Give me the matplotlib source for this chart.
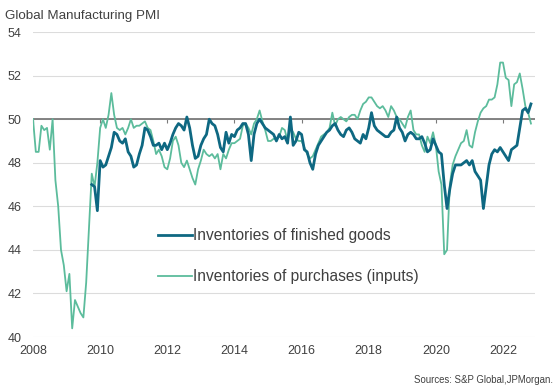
import numpy as np
import matplotlib
matplotlib.use("Agg")
import matplotlib.pyplot as plt

plt.rcParams['font.family'] = ['Liberation Sans', 'DejaVu Sans']

# monthly readings, purchases from Jan 2008, finished goods from Oct 2009
purchases = [
    50.0, 48.5, 48.5, 49.7, 49.5, 49.6, 48.6, 50.0, 47.2, 46.0, 44.0, 43.3,
    42.1, 42.9, 40.4, 41.7, 41.4, 41.1, 40.9, 42.5, 45.0, 47.5, 46.9, 48.0,
    49.6, 50.0, 49.6, 50.2, 51.2, 50.2, 49.6, 49.5, 49.6, 49.3, 49.6, 50.0,
    49.6, 49.7, 49.7, 49.8, 49.9, 49.6, 49.5, 49.0, 48.4, 48.6, 48.3, 47.8,
    47.7, 48.2, 49.0, 49.2, 48.8, 48.0, 47.8, 48.1, 47.7, 47.3, 47.0, 47.7,
    48.1, 48.6, 48.4, 48.3, 48.4, 48.2, 48.4, 47.7, 48.4, 48.2, 48.6, 48.9,
    48.9, 49.0, 49.1, 49.7, 49.8, 49.6, 49.3, 49.8, 50.0, 50.4, 49.9, 49.5,
    49.0, 49.0, 49.1, 49.1, 49.2, 49.6, 49.5, 49.0, 49.6, 49.4, 49.1, 49.0,
    49.0, 48.7, 48.4, 48.2, 48.3, 48.6, 48.9, 49.2, 49.3, 49.4, 49.6, 50.3,
    49.7, 50.0, 50.1, 50.0, 49.9, 50.1, 50.2, 50.2, 50.0, 50.4, 50.7, 50.8,
    51.0, 51.0, 50.8, 50.6, 50.5, 50.6, 50.4, 50.1, 50.6, 50.4, 50.1, 50.0,
    49.8, 49.6, 50.1, 50.4, 49.5, 49.3, 49.3, 48.8, 48.5, 49.2, 48.9, 49.4,
    48.8, 47.6, 47.0, 43.8, 44.0, 47.0, 47.9, 48.3, 48.6, 48.9, 49.0, 49.5,
    48.8, 48.7, 49.4, 49.9, 50.3, 50.5, 50.6, 50.9, 50.9, 51.0, 51.6, 52.6,
    52.6, 51.9, 51.8, 50.6, 51.6, 51.7, 52.1, 51.4, 50.6, 50.3, 49.8,
]
finished = [
    47.0, 46.9, 45.8,
    48.1, 47.8, 47.9, 48.3, 48.7, 49.4, 49.3, 49.0, 48.9, 49.1, 48.5, 48.3,
    47.8, 47.9, 48.4, 48.8, 49.6, 49.5, 49.2, 48.8, 48.8, 48.9, 48.6, 48.9,
    48.6, 48.9, 49.3, 49.6, 49.8, 49.7, 49.5, 50.1, 49.6, 48.8, 48.2, 48.3,
    48.8, 49.1, 49.3, 50.0, 49.8, 49.7, 49.3, 48.7, 48.5, 49.4, 48.9, 49.3,
    49.2, 49.5, 49.6, 49.8, 49.8, 49.3, 48.1, 49.3, 49.8, 50.0, 49.8, 49.6,
    49.5, 49.4, 49.3, 49.0, 49.3, 49.1, 49.2, 48.9, 50.1, 48.8, 49.0, 49.4,
    49.3, 48.6, 48.5, 48.0, 47.7, 48.4, 48.8, 49.0, 49.2, 49.4, 49.5, 49.7,
    49.8, 49.5, 49.3, 49.2, 49.5, 49.6, 49.4, 49.1, 49.0, 48.9, 49.3, 49.1,
    49.6, 50.3, 49.7, 49.5, 49.4, 49.3, 49.2, 49.2, 49.4, 49.5, 50.1, 49.6,
    49.4, 49.0, 49.3, 49.4, 49.3, 49.1, 49.1, 49.2, 48.9, 48.5, 48.6, 49.1,
    48.8, 48.5, 48.4, 47.0, 45.9, 46.8, 47.5, 47.9, 47.9, 47.9, 48.0, 48.1,
    47.9, 48.1, 47.6, 47.4, 47.2, 45.9, 46.9, 47.9, 48.4, 48.6, 48.5, 48.7,
    48.5, 48.3, 48.1, 48.6, 48.7, 48.8, 49.6, 50.4, 50.5, 50.3, 50.7,
]
purchases_start = 2008 + 0 / 12
finished_start = 2008 + 21 / 12

years = list(range(2008, 2023, 2))
yticks = list(range(40, 55, 2))

x_purch = purchases_start + np.arange(len(purchases)) / 12
x_fin = finished_start + np.arange(len(finished)) / 12

dark = '#0e6882'
light = '#5cbc9c'
txt = '#404040'

fig = plt.figure(figsize=(5.56, 3.91), dpi=100)
ax = fig.add_axes([0.0594, 0.138, 0.9026, 0.780])

ax.set_yticks(yticks)
ax.yaxis.grid(True, color='#dcdcdc', lw=0.8)
ax.set_axisbelow(True)
ax.axhline(50, color='#7a7a7a', lw=1.3, zorder=1)

ax.plot(x_fin, finished, color=dark, lw=2.0, label='Inventories of finished goods', zorder=3)
ax.plot(x_purch, purchases, color=light, lw=1.3, label='Inventories of purchases (inputs)', zorder=2)

ax.set_xlim(2008, 2022.95)
ax.set_ylim(40, 54)
ax.set_xticks(years)
for s in ax.spines.values():
    s.set_visible(False)
ax.tick_params(axis='both', length=0, labelsize=9, colors=txt)
ax.tick_params(axis='y', pad=8.5)
ax.tick_params(axis='x', pad=6)

# small tick marks hanging from the 50 line
sec = ax.secondary_xaxis(10 / 14)
sec.set_alignment('bottom')
sec.set_xticks(years)
sec.tick_params(direction='out', length=3, width=0.8, color='#7a7a7a',
                labelbottom=False, labeltop=False)
for s in sec.spines.values():
    s.set_visible(False)

ax.legend(loc='center left', bbox_to_anchor=(0.284, 0.345), bbox_transform=fig.transFigure,
          frameon=False, fontsize=11.2, labelspacing=1.67, handlelength=2.18,
          handletextpad=0.1, borderpad=0, borderaxespad=0, labelcolor=txt)

fig.text(0.009, 0.975, 'Global Manufacturing PMI', fontsize=9.6, color=txt, va='top', ha='left')
fig.text(0.995, 0.028, 'Sources: S&P Global,JPMorgan.', fontsize=6.9, color=txt,
         va='center', ha='right')

fig.savefig('out.png', dpi=100)
